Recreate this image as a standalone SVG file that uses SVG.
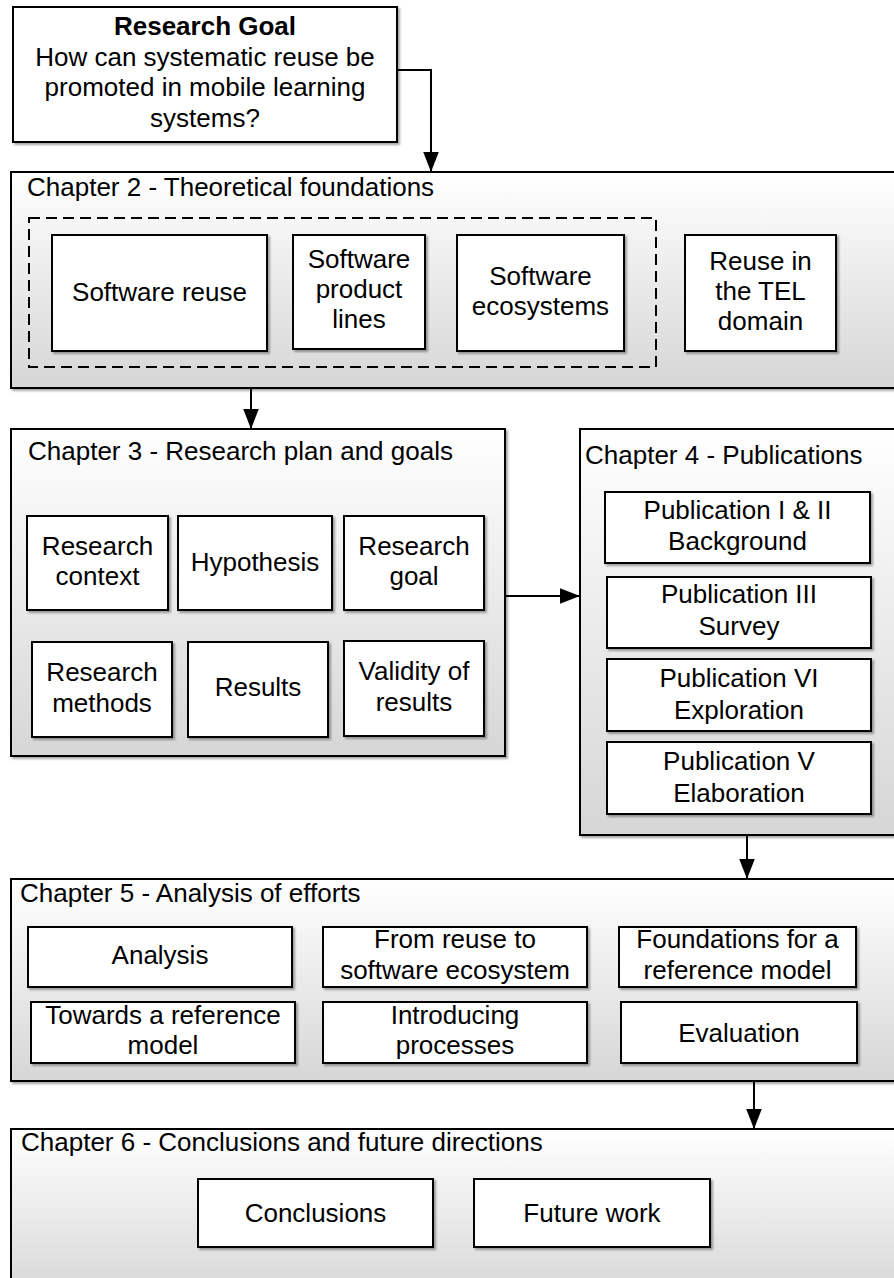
<svg xmlns="http://www.w3.org/2000/svg" width="894" height="1278" viewBox="0 0 894 1278">
  <defs>
    <linearGradient id="chapterFill" x1="0" y1="0" x2="0" y2="1">
      <stop offset="0" stop-color="#ffffff"/>
      <stop offset="1" stop-color="#d6d6d6"/>
    </linearGradient>
    <filter id="shadow" x="-5%" y="-5%" width="110%" height="115%">
      <feGaussianBlur in="SourceAlpha" stdDeviation="0.8"/>
      <feOffset dx="1.5" dy="1.5" result="off"/>
      <feComponentTransfer><feFuncA type="linear" slope="0.35"/></feComponentTransfer>
      <feMerge><feMergeNode/><feMergeNode in="SourceGraphic"/></feMerge>
    </filter>
    <marker id="arrow" markerUnits="userSpaceOnUse" markerWidth="20" markerHeight="16" viewBox="0 0 18 14" refX="18" refY="7" orient="auto">
      <path d="M0,0 L18,7 L0,14 Z" fill="#000"/>
    </marker>
  </defs>
  <style>
    text { font-family: "Liberation Sans", Arial, sans-serif; font-size: 26px; fill: #000; }
    .c { text-anchor: middle; }
    .b { font-weight: bold; }
    .chapter { fill: url(#chapterFill); stroke: #000; stroke-width: 2; filter: url(#shadow); }
    .box { fill: #fff; stroke: #000; stroke-width: 2; filter: url(#shadow); }
    .group { fill: none; stroke: #000; stroke-width: 2; stroke-dasharray: 11 6; }
    .edge { fill: none; stroke: #000; stroke-width: 2; marker-end: url(#arrow); }
  </style>

  <!-- Research goal -->
  <g id="research-goal">
    <rect class="box" x="13" y="7" width="384" height="135"/>
    <text class="c b" x="205" y="35">Research Goal</text>
    <text class="c" x="205" y="65.5">How can systematic reuse be</text>
    <text class="c" x="205" y="96">promoted in mobile learning</text>
    <text class="c" x="205" y="126.5">systems?</text>
  </g>

  <!-- Chapter 2 -->
  <g id="chapter2">
    <rect class="chapter" x="11" y="172" width="900" height="216"/>
    <text x="27" y="196">Chapter 2 - Theoretical foundations</text>
    <rect class="group" x="29" y="218" width="627" height="149"/>
    <g id="software-reuse">
      <rect class="box" x="52" y="235" width="215" height="116"/>
      <text class="c" x="159.5" y="301">Software reuse</text>
    </g>
    <g id="software-product-lines">
      <rect class="box" x="293" y="235" width="132" height="114"/>
      <text class="c" x="359" y="268">Software</text>
      <text class="c" x="359" y="298">product</text>
      <text class="c" x="359" y="328">lines</text>
    </g>
    <g id="software-ecosystems">
      <rect class="box" x="457" y="235" width="167" height="116"/>
      <text class="c" x="540.5" y="285">Software</text>
      <text class="c" x="540.5" y="315">ecosystems</text>
    </g>
    <g id="reuse-tel">
      <rect class="box" x="685" y="235" width="151" height="116"/>
      <text class="c" x="760.5" y="270">Reuse in</text>
      <text class="c" x="760.5" y="300">the TEL</text>
      <text class="c" x="760.5" y="330">domain</text>
    </g>
  </g>

  <!-- Chapter 3 -->
  <g id="chapter3">
    <rect class="chapter" x="11" y="429" width="494" height="327"/>
    <text x="28" y="460">Chapter 3 - Research plan and goals</text>
    <g id="research-context">
      <rect class="box" x="27" y="516" width="141" height="94"/>
      <text class="c" x="97.5" y="555">Research</text>
      <text class="c" x="97.5" y="585">context</text>
    </g>
    <g id="hypothesis">
      <rect class="box" x="178" y="516" width="154" height="94"/>
      <text class="c" x="255" y="571">Hypothesis</text>
    </g>
    <g id="research-goal-item">
      <rect class="box" x="344" y="516" width="140" height="94"/>
      <text class="c" x="414" y="555">Research</text>
      <text class="c" x="414" y="585">goal</text>
    </g>
    <g id="research-methods">
      <rect class="box" x="32" y="642" width="140" height="95"/>
      <text class="c" x="102" y="681">Research</text>
      <text class="c" x="102" y="712">methods</text>
    </g>
    <g id="results">
      <rect class="box" x="188" y="642" width="140" height="95"/>
      <text class="c" x="258" y="696">Results</text>
    </g>
    <g id="validity">
      <rect class="box" x="344" y="641" width="140" height="95"/>
      <text class="c" x="414" y="680">Validity of</text>
      <text class="c" x="414" y="711">results</text>
    </g>
  </g>

  <!-- Chapter 4 -->
  <g id="chapter4">
    <rect class="chapter" x="580" y="429" width="330" height="406"/>
    <text x="585" y="464">Chapter 4 - Publications</text>
    <g id="pub-1-2">
      <rect class="box" x="605" y="492" width="265" height="71"/>
      <text class="c" x="737.5" y="518.5">Publication I &amp; II</text>
      <text class="c" x="737.5" y="550">Background</text>
    </g>
    <g id="pub-3">
      <rect class="box" x="607" y="577" width="264" height="71"/>
      <text class="c" x="739" y="603">Publication III</text>
      <text class="c" x="739" y="635">Survey</text>
    </g>
    <g id="pub-6">
      <rect class="box" x="607" y="659" width="264" height="72"/>
      <text class="c" x="739" y="687">Publication VI</text>
      <text class="c" x="739" y="718.5">Exploration</text>
    </g>
    <g id="pub-5">
      <rect class="box" x="607" y="742" width="264" height="72"/>
      <text class="c" x="739" y="770">Publication V</text>
      <text class="c" x="739" y="802">Elaboration</text>
    </g>
  </g>

  <!-- Chapter 5 -->
  <g id="chapter5">
    <rect class="chapter" x="11" y="879" width="900" height="202"/>
    <text x="20" y="902">Chapter 5 - Analysis of efforts</text>
    <g id="analysis">
      <rect class="box" x="28" y="927" width="264" height="60"/>
      <text class="c" x="160" y="964">Analysis</text>
    </g>
    <g id="reuse-to-ecosystem">
      <rect class="box" x="323" y="927" width="264" height="60"/>
      <text class="c" x="455" y="948">From reuse to</text>
      <text class="c" x="455" y="978.5">software ecosystem</text>
    </g>
    <g id="foundations">
      <rect class="box" x="619" y="927" width="237" height="60"/>
      <text class="c" x="737.5" y="948">Foundations for a</text>
      <text class="c" x="737.5" y="978.5">reference model</text>
    </g>
    <g id="towards-model">
      <rect class="box" x="31" y="1002" width="264" height="61"/>
      <text class="c" x="163" y="1023.5">Towards a reference</text>
      <text class="c" x="163" y="1054">model</text>
    </g>
    <g id="introducing-processes">
      <rect class="box" x="323" y="1002" width="264" height="61"/>
      <text class="c" x="455" y="1023.5">Introducing</text>
      <text class="c" x="455" y="1054">processes</text>
    </g>
    <g id="evaluation">
      <rect class="box" x="621" y="1002" width="236" height="61"/>
      <text class="c" x="739" y="1042">Evaluation</text>
    </g>
  </g>

  <!-- Chapter 6 -->
  <g id="chapter6">
    <rect class="chapter" x="11" y="1129" width="900" height="170"/>
    <text x="21" y="1151">Chapter 6 - Conclusions and future directions</text>
    <g id="conclusions">
      <rect class="box" x="198" y="1179" width="235" height="68"/>
      <text class="c" x="315.5" y="1222">Conclusions</text>
    </g>
    <g id="future-work">
      <rect class="box" x="474" y="1179" width="236" height="68"/>
      <text class="c" x="592" y="1222">Future work</text>
    </g>
  </g>

  <!-- Connectors -->
  <g id="connectors">
    <path class="edge" d="M397,70 H431 V172"/>
    <path class="edge" d="M251,388 V429"/>
    <path class="edge" d="M505,596 H580"/>
    <path class="edge" d="M747,835 V879"/>
    <path class="edge" d="M754,1081 V1129"/>
  </g>
</svg>
